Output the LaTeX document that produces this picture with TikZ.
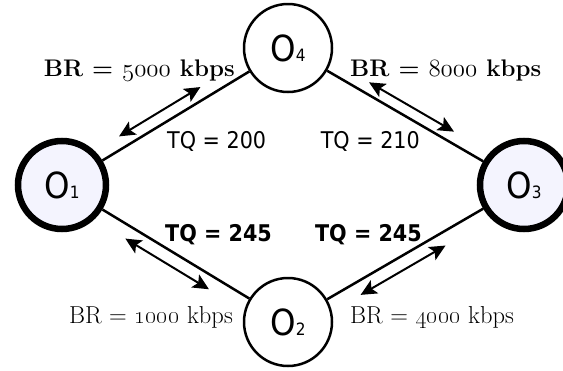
\documentclass[tikz,border=0pt]{standalone}
\usepackage{fontspec}
\usepackage{xcolor}
\usepackage{tikz}
\usetikzlibrary{calc,arrows.meta}
\newfontfamily\labfont{DejaVu Sans}[FakeStretch=0.9]
\definecolor{ink}{HTML}{000000}
\definecolor{hubbg}{HTML}{F4F4FE}
\definecolor{peerbg}{HTML}{FFFFFF}
\newcommand\osn[1]{{\fontencoding{TS1}\selectfont #1}}
\newcommand\osnb[1]{{\fontencoding{OML}\fontfamily{lmm}\fontseries{b}\fontshape{it}\selectfont #1}}
\newcommand\osub[1]{{\fontsize{17}{17}\selectfont #1}}
\tikzset{
  peer/.style={circle, draw=ink, line width=2.5pt, fill=peerbg, minimum size=88pt, inner sep=0pt, font=\labfont\fontsize{36}{36}\selectfont},
  hub/.style={peer, line width=6.5pt, fill=hubbg},
  link/.style={draw=ink, line width=2.5pt},
  flow/.style={draw=ink, line width=2pt, {Stealth[length=16pt,width=15pt,inset=3.5pt]}-{Stealth[length=16pt,width=15pt,inset=3.5pt]}},
  labq/.style={text=ink, inner sep=0pt, font=\labfont\fontsize{23}{23}\selectfont},
  labqb/.style={text=ink, inner sep=0pt, font=\labfont\bfseries\fontsize{23}{23}\selectfont},
  labr/.style={text=ink, inner sep=0pt, font=\fontsize{24.5}{24.5}\selectfont},
  labrb/.style={text=ink, inner sep=0pt, font=\bfseries\fontsize{24}{24}\selectfont},
}

\begin{document}
\begin{tikzpicture}[x=1pt,y=-1pt]
  \useasboundingbox (0,0) rectangle (563,370);

  \node[hub]  (o1) at (62,185)  {O\osub{1}};
  \node[peer] (o4) at (288,48)  {O\osub{4}};
  \node[hub]  (o3) at (524,185) {O\osub{3}};
  \node[peer] (o2) at (288,322) {O\osub{2}};

  \draw[link] (o1) -- (o4);
  \draw[link] (o4) -- (o3);
  \draw[link] (o3) -- (o2);
  \draw[link] (o2) -- (o1);

  % two-way arrows, outside each link
  \draw[flow] ($(o1)!0.28!(o4)!12pt!90:(o4)$) -- ($(o1)!0.64!(o4)!12pt!90:(o4)$);
  \draw[flow] ($(o4)!0.32!(o3)!11pt!90:(o3)$) -- ($(o4)!0.68!(o3)!11pt!90:(o3)$);
  \draw[flow] ($(o3)!0.36!(o2)!13pt!90:(o2)$) -- ($(o3)!0.72!(o2)!13pt!90:(o2)$);
  \draw[flow] ($(o2)!0.32!(o1)!13pt!90:(o1)$) -- ($(o2)!0.69!(o1)!13pt!90:(o1)$);

  \node[labrb, anchor=base east] (br14) at (235,76)  {BR = \osnb{5000} kbps};
  \node[labrb, anchor=base west] (br43) at (350,76)  {BR = \osnb{8000} kbps};
  \node[labq,  anchor=base west] (tq14) at (167,148) {TQ = 200};
  \node[labq,  anchor=base east] (tq43) at (420,148) {TQ = 210};
  \node[labqb, anchor=base west] (tq12) at (165,241) {TQ = 245};
  \node[labqb, anchor=base east] (tq23) at (422,241) {TQ = 245};
  \node[labr,  anchor=base east] (br12) at (233,323) {BR = \osn{1000} kbps};
  \node[labr,  anchor=base west] (br23) at (350,323) {BR = \osn{4000} kbps};
\end{tikzpicture}
\end{document}
